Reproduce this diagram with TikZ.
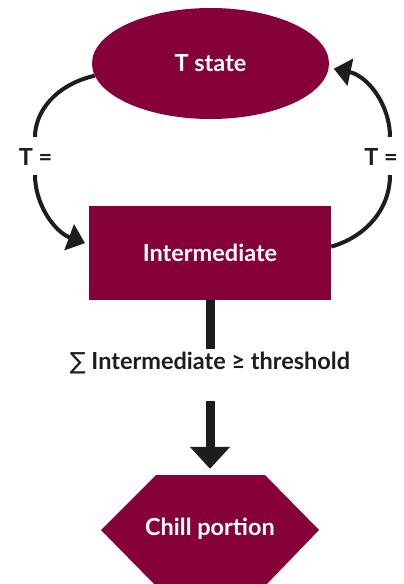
\documentclass[tikz,border=0pt]{standalone}
\usepackage{fontspec}
\setmainfont{Lato}
\newfontfamily\symfont{DejaVu Sans}
\usetikzlibrary{shapes.geometric,arrows.meta}
\definecolor{maroon}{HTML}{860039}
\definecolor{ink}{HTML}{1D1D1B}
\begin{document}
\begin{tikzpicture}[x=1pt,y=-1pt,
  every node/.style={font=\fontsize{23.5}{28}\selectfont\bfseries},
  fillbox/.style={fill=maroon,text=white,inner sep=0pt},
  curve/.style={draw=ink,line width=4pt},
  curvetip/.style={-{Triangle[length=17pt,width=27pt]}},
  lbl/.style={text=ink,inner sep=0pt}]
\useasboundingbox (0,0) rectangle (404,584);
\node[fillbox,ellipse,minimum width=237pt,minimum height=111pt] (tstate) at (210.5,63.5) {T state};
\node[fillbox,rectangle,minimum width=242pt,minimum height=94pt] (inter) at (210,253) {Intermediate};
\node[lbl,minimum height=28pt] (cond) at (210,363) {{\symfont\mdseries ∑} Intermediate ≥ threshold};
\fill[maroon] (156,475) -- (265,475) -- (319,530) -- (265,586) -- (156,586) -- (101,530) -- cycle;
\node[text=white,inner sep=0pt,minimum height=108pt] (chill) at (210,529) {Chill portion};
\node[lbl] (labl) at (35.5,157) {T =};
\node[lbl] (labr) at (381,157) {T =};
\coordinate (lt) at (35,137);
\coordinate (lb) at (35,175);
\coordinate (rt) at (390,137);
\coordinate (rb) at (390,175);
\draw[curve] (tstate.186) .. controls (55,85) and (35,112) .. (lt);
\draw[curve,curvetip,shorten >=4pt] (lb) .. controls (35,205) and (55,232) .. (inter.176);
\draw[curve] (inter.3) .. controls (365,237) and (390,210) .. (rb);
\draw[curve,curvetip,shorten >=5pt] (rt) .. controls (390,105) and (368,76) .. (tstate.-2);
\draw[ink,line width=9pt] (inter.south) -- (cond.north);
\draw[ink,line width=9pt,-{Triangle[length=22pt,width=39pt]},shorten <=24pt,shorten >=6pt] (cond.south) -- (chill.north);
\end{tikzpicture}
\end{document}
